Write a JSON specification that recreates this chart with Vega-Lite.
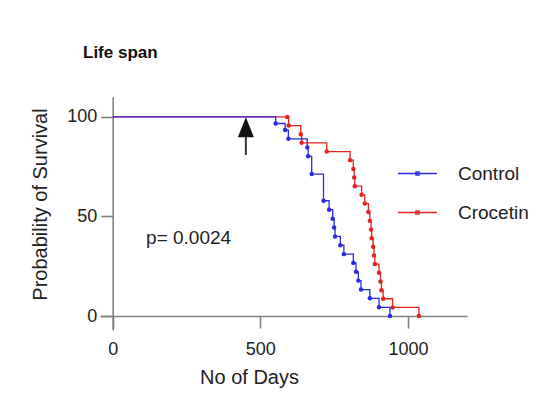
{
  "$schema": "https://vega.github.io/schema/vega-lite/v6.json",
  "description": "Kaplan-Meier life span curves, Control vs Crocetin",
  "width": 367,
  "height": 233,
  "autosize": {"type": "none"},
  "padding": {"left": 100, "top": 97, "right": 87, "bottom": 83},
  "config": {
    "background": "white",
    "view": {"stroke": null},
    "font": "Liberation Sans",
    "axis": {"grid": false}
  },
  "title": {
    "text": "Life span",
    "anchor": "start",
    "frame": "group",
    "fontSize": 17,
    "fontWeight": "bold",
    "color": "#111111",
    "dx": -17,
    "offset": 35
  },
  "datasets": {
    "curves": [
      {"group": "Control", "day": 0, "survival": 100, "event": false},
      {"group": "Control", "day": 552, "survival": 96.7, "event": true},
      {"group": "Control", "day": 584, "survival": 93.4, "event": true},
      {"group": "Control", "day": 595, "survival": 89.0, "event": true},
      {"group": "Control", "day": 659, "survival": 84.6, "event": true},
      {"group": "Control", "day": 662, "survival": 80.2, "event": true},
      {"group": "Control", "day": 674, "survival": 71.3, "event": true},
      {"group": "Control", "day": 714, "survival": 57.9, "event": true},
      {"group": "Control", "day": 733, "survival": 53.4, "event": true},
      {"group": "Control", "day": 745, "survival": 48.9, "event": true},
      {"group": "Control", "day": 750, "survival": 44.5, "event": true},
      {"group": "Control", "day": 753, "survival": 40.0, "event": true},
      {"group": "Control", "day": 771, "survival": 35.6, "event": true},
      {"group": "Control", "day": 783, "survival": 31.1, "event": true},
      {"group": "Control", "day": 815, "survival": 26.7, "event": true},
      {"group": "Control", "day": 824, "survival": 22.2, "event": true},
      {"group": "Control", "day": 832, "survival": 17.8, "event": true},
      {"group": "Control", "day": 841, "survival": 13.3, "event": true},
      {"group": "Control", "day": 871, "survival": 8.9, "event": true},
      {"group": "Control", "day": 902, "survival": 4.4, "event": true},
      {"group": "Control", "day": 939, "survival": 0, "event": true},
      {"group": "Crocetin", "day": 0, "survival": 100, "event": false},
      {"group": "Crocetin", "day": 591, "survival": 100, "event": true},
      {"group": "Crocetin", "day": 596, "survival": 95.65, "event": true},
      {"group": "Crocetin", "day": 637, "survival": 91.3, "event": true},
      {"group": "Crocetin", "day": 640, "survival": 87.0, "event": true},
      {"group": "Crocetin", "day": 725, "survival": 82.6, "event": true},
      {"group": "Crocetin", "day": 804, "survival": 78.3, "event": true},
      {"group": "Crocetin", "day": 815, "survival": 73.9, "event": true},
      {"group": "Crocetin", "day": 818, "survival": 69.6, "event": true},
      {"group": "Crocetin", "day": 820, "survival": 65.2, "event": true},
      {"group": "Crocetin", "day": 843, "survival": 60.9, "event": true},
      {"group": "Crocetin", "day": 854, "survival": 56.5, "event": true},
      {"group": "Crocetin", "day": 866, "survival": 52.2, "event": true},
      {"group": "Crocetin", "day": 871, "survival": 47.8, "event": true},
      {"group": "Crocetin", "day": 875, "survival": 43.5, "event": true},
      {"group": "Crocetin", "day": 877, "survival": 39.1, "event": true},
      {"group": "Crocetin", "day": 882, "survival": 34.8, "event": true},
      {"group": "Crocetin", "day": 885, "survival": 30.4, "event": true},
      {"group": "Crocetin", "day": 888, "survival": 26.1, "event": true},
      {"group": "Crocetin", "day": 902, "survival": 21.7, "event": true},
      {"group": "Crocetin", "day": 907, "survival": 17.4, "event": true},
      {"group": "Crocetin", "day": 910, "survival": 13.0, "event": true},
      {"group": "Crocetin", "day": 916, "survival": 8.7, "event": true},
      {"group": "Crocetin", "day": 948, "survival": 4.35, "event": true},
      {"group": "Crocetin", "day": 1037, "survival": 0, "event": true}
    ],
    "note": [{"day": 113, "survival": 36, "label": "p= 0.0024"}],
    "arrow": [{"day": 451, "survival": 94.8, "base": 89.9, "tail": 80.9}]
  },
  "data": {"name": "curves"},
  "encoding": {
    "x": {
      "field": "day",
      "type": "quantitative",
      "scale": {"domain": [-43, 1200], "nice": false, "zero": false},
      "axis": {
        "values": [0, 500, 1000],
        "format": "d",
        "offset": -13.94,
        "domainColor": "#808080",
        "domainWidth": 1.6,
        "tickColor": "#808080",
        "tickWidth": 1.6,
        "tickSize": 12,
        "labelFontSize": 18,
        "labelColor": "#222222",
        "labelPadding": 12,
        "title": "No of Days",
        "titleFontSize": 20,
        "titleFontWeight": "normal",
        "titleColor": "#222222",
        "titleX": 149,
        "titlePadding": 9
      }
    },
    "y": {
      "field": "survival",
      "type": "quantitative",
      "scale": {"domain": [-7, 110], "nice": false, "zero": false},
      "axis": {
        "values": [0, 50, 100],
        "offset": -12.7,
        "domainColor": "#808080",
        "domainWidth": 1.6,
        "tickColor": "#808080",
        "tickWidth": 1.6,
        "tickSize": 12,
        "labelFontSize": 18,
        "labelColor": "#222222",
        "labelPadding": 4,
        "title": "Probability of Survival",
        "titleFontSize": 20,
        "titleFontWeight": "normal",
        "titleColor": "#222222",
        "titleY": 107,
        "titlePadding": 16
      }
    }
  },
  "layer": [
    {
      "transform": [{"filter": "datum.group === 'Crocetin'"}],
      "mark": {"type": "line", "interpolate": "step-after", "strokeWidth": 1.3},
      "encoding": {
        "color": {
          "field": "group",
          "type": "nominal",
          "scale": {"domain": ["Control", "Crocetin"], "range": ["#2b2be0", "#e52222"]},
          "legend": {
            "title": null,
            "orient": "none",
            "legendX": 297,
            "legendY": 56,
            "padding": 0,
            "symbolType": "M-1,0H1M-0.08,-0.08H0.08V0.08H-0.08Z",
            "symbolSize": 1521,
            "symbolStrokeWidth": 1.3,
            "labelFontSize": 19,
            "labelColor": "#222222",
            "labelOffset": 20,
            "rowPadding": 8
          }
        }
      }
    },
    {
      "transform": [{"filter": "datum.group === 'Crocetin' && datum.event"}],
      "mark": {"type": "circle", "size": 20, "opacity": 1, "color": "#e52222"}
    },
    {
      "transform": [{"filter": "datum.group === 'Control'"}],
      "mark": {"type": "line", "interpolate": "step-after", "strokeWidth": 1.3},
      "encoding": {
        "color": {"field": "group", "type": "nominal"}
      }
    },
    {
      "transform": [{"filter": "datum.group === 'Control' && datum.event"}],
      "mark": {"type": "circle", "size": 20, "opacity": 1, "color": "#2b2be0"}
    },
    {
      "data": {"name": "note"},
      "mark": {"type": "text", "align": "left", "baseline": "alphabetic", "fontSize": 19, "color": "#222222"},
      "encoding": {"text": {"field": "label"}}
    },
    {
      "data": {"name": "arrow"},
      "mark": {"type": "rule", "color": "#333333", "strokeWidth": 2},
      "encoding": {
        "y": {"field": "tail", "type": "quantitative"},
        "y2": {"field": "base"}
      }
    },
    {
      "data": {"name": "arrow"},
      "mark": {"type": "point", "shape": "M0,-1L0.8,1L-0.8,1Z", "filled": true, "size": 400, "opacity": 1, "color": "#111111"}
    }
  ]
}
